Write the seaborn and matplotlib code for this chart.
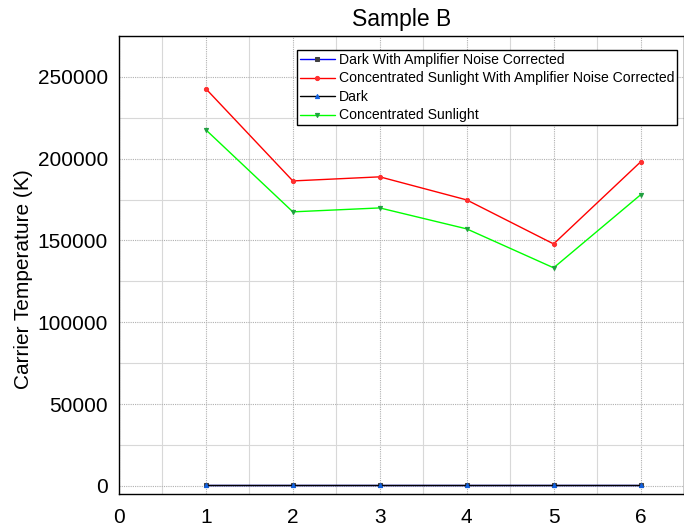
import matplotlib
matplotlib.use("Agg")
import matplotlib.pyplot as plt
import seaborn as sns
import pandas as pd
from matplotlib.ticker import MultipleLocator

sns.set_style("white")
plt.rcParams['font.family'] = ['Liberation Sans', 'DejaVu Sans']
plt.rcParams['text.color'] = 'black'
plt.rcParams['axes.labelcolor'] = 'black'

positions = [1, 2, 3, 4, 5, 6]
dark_corrected = [300, 300, 300, 300, 300, 300]
sun_corrected = [242700, 186400, 188900, 174800, 147900, 198000]
dark = [300, 300, 300, 300, 300, 300]
sunlight = [217600, 167500, 169900, 157100, 133300, 177900]

series_names = ["Dark With Amplifier Noise Corrected",
                "Concentrated Sunlight With Amplifier Noise Corrected",
                "Dark", "Concentrated Sunlight"]
series_values = [dark_corrected, sun_corrected, dark, sunlight]
line_colors = ["#0000ff", "#ff0000", "#000000", "#00ff00"]
marker_colors = ["#404040", "#ff3030", "#1060e0", "#20a040"]
markers = ["s", "o", "^", "v"]

fig = plt.figure(figsize=(6.84, 5.29), dpi=100)
ax = fig.add_axes([0.174, 0.066, 0.826, 0.866])

for name, vals, lc, mc, mk in zip(series_names, series_values, line_colors, marker_colors, markers):
    df = pd.DataFrame({"x": positions, "y": vals})
    sns.lineplot(data=df, x="x", y="y", ax=ax, color=lc, marker=mk, markersize=3,
                 markerfacecolor=mc, markeredgecolor=mc, linewidth=1, label=name)

ax.set_xlim(0, 6.5)
ax.set_ylim(-5000, 275000)
ax.xaxis.set_major_locator(MultipleLocator(1))
ax.xaxis.set_minor_locator(MultipleLocator(0.5))
ax.yaxis.set_major_locator(MultipleLocator(50000))
ax.yaxis.set_minor_locator(MultipleLocator(25000))
ax.grid(which="major", color="#b0b0b0", linestyle=(0, (1, 1)), linewidth=0.8)
ax.grid(which="minor", color="#d8d8d8", linestyle="-", linewidth=0.8)
ax.set_axisbelow(True)
for s in ax.spines.values():
    s.set_color("black")
    s.set_linewidth(1)
ax.tick_params(axis="both", which="major", labelsize=15, length=0, colors="black")
ax.tick_params(axis="x", pad=10)
ax.tick_params(axis="y", pad=8)
ax.tick_params(which="minor", length=0)
ax.set_xlabel("")
ax.set_ylabel("Carrier Temperature (K)", fontsize=15, color="black")
ax.yaxis.set_label_coords(-0.153, 0.47)
ax.set_title("Sample B", fontsize=16.5, pad=7, color="black")

leg = ax.legend(loc="upper left", bbox_to_anchor=(0.315, 0.969), fontsize=10.1,
                frameon=True, fancybox=False, borderpad=0.2, labelspacing=0.32,
                handlelength=2.5, handletextpad=0.3, borderaxespad=0)
leg.get_frame().set_edgecolor("black")
leg.get_frame().set_linewidth(1)
leg.get_frame().set_alpha(1)

fig.savefig("out.png", dpi=100)
